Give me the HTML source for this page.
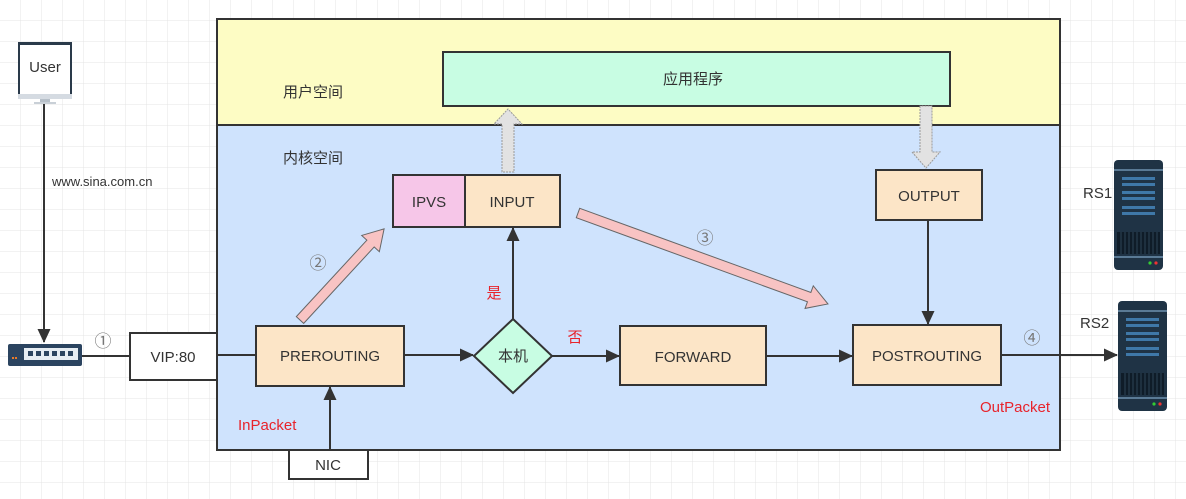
<!DOCTYPE html>
<html><head><meta charset="utf-8"><style>
html,body{margin:0;padding:0;background:#fff}
svg{display:block}
text{font-family:"Liberation Sans","Noto Sans CJK SC",sans-serif;fill:#333}
</style></head><body>
<svg width="1186" height="499" viewBox="0 0 1186 499" xmlns="http://www.w3.org/2000/svg">
<defs>
<pattern id="g" width="21" height="21" patternUnits="userSpaceOnUse" x="0" y="0">
<path d="M21 0V21M0 21H21" stroke="#e4e4e4" stroke-width="1" fill="none"/>
</pattern>
<marker id="ah" markerWidth="14" markerHeight="14" refX="13" refY="6.5" orient="auto" markerUnits="userSpaceOnUse" viewBox="0 0 14 13">
<path d="M0,0 L14,6.5 L0,13 z" fill="#333"/>
</marker>
<g id="srv">
<rect x="0" y="0" width="49" height="110" rx="4" fill="#1f3345"/>
<rect x="0" y="9" width="49" height="2" fill="#5a7a95"/>
<rect x="8" y="17" width="33" height="3" fill="#3f78a8"/>
<rect x="8" y="23" width="33" height="3" fill="#3f78a8"/>
<rect x="8" y="31" width="33" height="3" fill="#3f78a8"/>
<rect x="8" y="37" width="33" height="3" fill="#3f78a8"/>
<rect x="8" y="46" width="33" height="3" fill="#3f78a8"/>
<rect x="8" y="52" width="33" height="3" fill="#3f78a8"/>
<rect x="3" y="72" width="43" height="22" fill="#0f1c28"/>
<path d="M7 72V94M11 72V94M15 72V94M19 72V94M23 72V94M27 72V94M31 72V94M35 72V94M39 72V94M43 72V94" stroke="#2d4356" stroke-width="1"/>
<rect x="0" y="96" width="49" height="2" fill="#5a7a95"/>
<circle cx="36" cy="103" r="1.6" fill="#3c3"/>
<circle cx="42" cy="103" r="1.6" fill="#e33"/>
</g>
</defs>
<rect width="1186" height="499" fill="url(#g)"/>

<rect x="217" y="19" width="843" height="106" fill="#fdfcc4" stroke="#333" stroke-width="2"/>
<rect x="217" y="125" width="843" height="325" fill="#cfe3fd" stroke="#333" stroke-width="2"/>
<text x="283" y="97" font-size="15">用户空间</text>
<text x="283" y="163" font-size="15">内核空间</text>

<rect x="443" y="52" width="507" height="54" fill="#c8fde3" stroke="#333" stroke-width="2"/>
<text x="663" y="84" font-size="15">应用程序</text>

<path d="M502 172 V124 H494 L508 109 L522 124 H514 V172 Z" fill="#e2e2e2" stroke="#999" stroke-dasharray="2,1" stroke-width="1"/>
<path d="M920 106 V152 H912 L926 168 L940 152 H932 V106 Z" fill="#e2e2e2" stroke="#999" stroke-dasharray="2,1" stroke-width="1"/>

<rect x="393" y="175" width="72" height="52" fill="#f6c6e8" stroke="#333" stroke-width="2"/>
<rect x="465" y="175" width="95" height="52" fill="#fce5c7" stroke="#333" stroke-width="2"/>
<text x="429" y="207" font-size="15" text-anchor="middle">IPVS</text>
<text x="512" y="207" font-size="15" text-anchor="middle">INPUT</text>

<rect x="876" y="170" width="106" height="50" fill="#fce5c7" stroke="#333" stroke-width="2"/>
<text x="929" y="201" font-size="15" text-anchor="middle">OUTPUT</text>

<g transform="translate(300,320) rotate(-47.3)">
<polygon points="0,-5 104,-5 104,-12 124,0 104,12 104,5 0,5" fill="#f8c3c3" stroke="#666" stroke-width="1"/>
</g>
<g transform="translate(578,213) rotate(20)">
<polygon points="0,-5 246,-5 246,-12 266,0 246,12 246,5 0,5" fill="#f8c3c3" stroke="#666" stroke-width="1"/>
</g>
<text x="318" y="269" font-size="17" text-anchor="middle" style="fill:#777">②</text>
<text x="705" y="244" font-size="17" text-anchor="middle" style="fill:#777">③</text>

<line x1="44" y1="103" x2="44" y2="342" stroke="#333" stroke-width="2" marker-end="url(#ah)"/>
<text x="52" y="186" font-size="13">www.sina.com.cn</text>
<rect x="19" y="43" width="52" height="52" fill="#fff" stroke="#2a3a4a" stroke-width="2"/>
<rect x="18" y="42" width="54" height="3" fill="#2a3a4a"/>
<rect x="18" y="94" width="54" height="5" fill="#d5dbe2"/>
<rect x="40" y="99" width="10" height="4" fill="#b7c0c9"/>
<rect x="34" y="102" width="22" height="2" fill="#c9d0d7"/>
<text x="45" y="72" font-size="15" text-anchor="middle">User</text>

<rect x="8" y="344" width="74" height="22" rx="2" fill="#2b4460"/>
<rect x="24" y="348" width="54" height="12" fill="#e6edf3"/>
<g fill="#2b4460"><rect x="28" y="351" width="5" height="5"/><rect x="36" y="351" width="5" height="5"/><rect x="44" y="351" width="5" height="5"/><rect x="52" y="351" width="5" height="5"/><rect x="60" y="351" width="5" height="5"/><rect x="68" y="351" width="5" height="5"/></g>
<rect x="12" y="357" width="2" height="2" fill="#e87a2a"/><rect x="15" y="357" width="2" height="2" fill="#e87a2a"/>
<line x1="82" y1="356" x2="130" y2="356" stroke="#333" stroke-width="2"/>
<text x="103" y="347" font-size="17" text-anchor="middle" style="fill:#777">①</text>
<rect x="130" y="333" width="87" height="47" fill="#fff" stroke="#333" stroke-width="2"/>
<text x="173" y="362" font-size="15" text-anchor="middle">VIP:80</text>
<line x1="217" y1="355" x2="256" y2="355" stroke="#333" stroke-width="2"/>

<rect x="256" y="326" width="148" height="60" fill="#fce5c7" stroke="#333" stroke-width="2"/>
<text x="330" y="361" font-size="15" text-anchor="middle">PREROUTING</text>
<line x1="404" y1="355" x2="473" y2="355" stroke="#333" stroke-width="2" marker-end="url(#ah)"/>
<polygon points="513,319 552,356 513,393 474,356" fill="#c8fde3" stroke="#333" stroke-width="2"/>
<text x="513" y="361" font-size="15" text-anchor="middle">本机</text>
<line x1="513" y1="319" x2="513" y2="228" stroke="#333" stroke-width="2" marker-end="url(#ah)"/>
<text x="494" y="298" font-size="15" text-anchor="middle" style="fill:#e8232b">是</text>
<text x="575" y="342" font-size="15" text-anchor="middle" style="fill:#e8232b">否</text>
<line x1="552" y1="356" x2="619" y2="356" stroke="#333" stroke-width="2" marker-end="url(#ah)"/>
<rect x="620" y="326" width="146" height="59" fill="#fce5c7" stroke="#333" stroke-width="2"/>
<text x="693" y="362" font-size="15" text-anchor="middle">FORWARD</text>
<line x1="766" y1="356" x2="852" y2="356" stroke="#333" stroke-width="2" marker-end="url(#ah)"/>
<line x1="928" y1="220" x2="928" y2="324" stroke="#333" stroke-width="2" marker-end="url(#ah)"/>
<rect x="853" y="325" width="148" height="60" fill="#fce5c7" stroke="#333" stroke-width="2"/>
<text x="927" y="361" font-size="15" text-anchor="middle">POSTROUTING</text>
<line x1="1001" y1="355" x2="1117" y2="355" stroke="#333" stroke-width="2" marker-end="url(#ah)"/>
<text x="1032" y="344" font-size="17" text-anchor="middle" style="fill:#777">④</text>
<text x="1050" y="412" font-size="15" text-anchor="end" style="fill:#e8232b">OutPacket</text>

<line x1="330" y1="450" x2="330" y2="387" stroke="#333" stroke-width="2" marker-end="url(#ah)"/>
<text x="238" y="430" font-size="15" style="fill:#e8232b">InPacket</text>
<rect x="289" y="450" width="79" height="29" fill="#fff" stroke="#333" stroke-width="2"/>
<text x="328" y="470" font-size="15" text-anchor="middle">NIC</text>

<use href="#srv" x="1114" y="160"/>
<use href="#srv" x="1118" y="301"/>
<text x="1083" y="198" font-size="15">RS1</text>
<text x="1080" y="328" font-size="15">RS2</text>
</svg>
</body></html>
